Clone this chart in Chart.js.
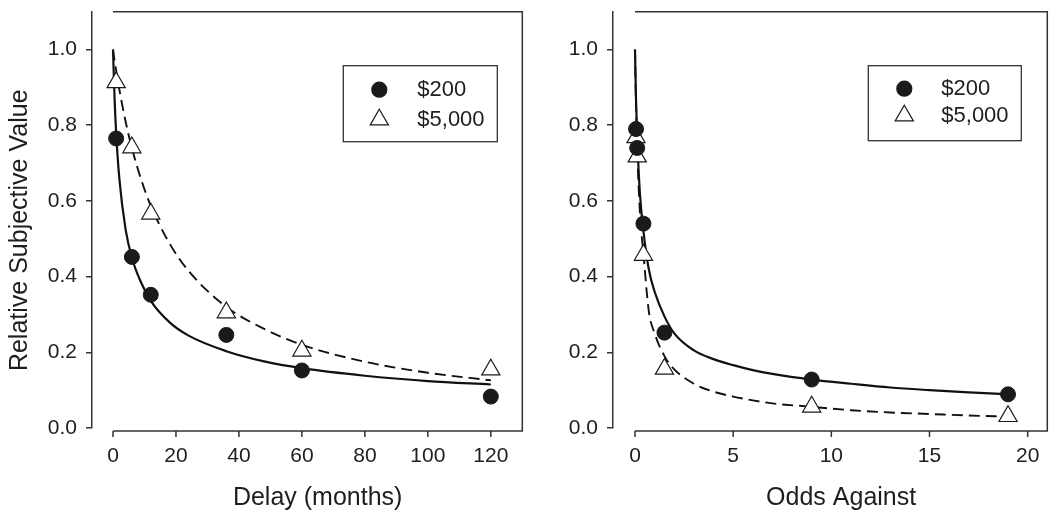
<!DOCTYPE html>
<html>
<head>
<meta charset="utf-8">
<script src="https://cdn.jsdelivr.net/npm/chart.js@4.4.1/dist/chart.umd.min.js"></script>
<style>
  body { margin: 0; background: #fff; }
  #wrap { position: relative; width: 1059px; height: 516px; }
  .panel { position: absolute; top: 0; height: 516px; }
</style>
</head>
<body>
<div id="wrap">
  <div class="panel" style="left:530px;width:529px"><canvas id="oddsChart"></canvas></div>
  <div class="panel" style="left:0;width:534px"><canvas id="delayChart"></canvas></div>
</div>
<script>
// --- left panel: delay (months)
const delayX = [1, 6, 12, 36, 60, 120];
const delay200 = [0.765, 0.452, 0.352, 0.246, 0.152, 0.083];
const delay5000 = [0.913, 0.741, 0.566, 0.305, 0.204, 0.154];
// fitted curves
const delayCurveX = [0, 0.5, 1, 2, 4, 6, 9, 12, 18, 24, 36, 48, 60, 80, 100, 120];
const delayCurve200 = [1.0, 0.87, 0.78, 0.66, 0.525, 0.45, 0.383, 0.336, 0.279, 0.244, 0.203, 0.176, 0.158, 0.138, 0.124, 0.115];
const delayCurve5000 = [1.0, 0.97, 0.945, 0.895, 0.81, 0.74, 0.655, 0.587, 0.487, 0.415, 0.32, 0.262, 0.22, 0.175, 0.146, 0.126];
const delayTicks = [0, 20, 40, 60, 80, 100, 120];

// --- right panel: odds against
const oddsX = [0.053, 0.111, 0.429, 1.5, 9, 19];
const odds200 = [0.79, 0.74, 0.54, 0.252, 0.128, 0.089];
const odds5000 = [0.768, 0.717, 0.457, 0.156, 0.056, 0.031];
const oddsCurveX = [0, 0.05, 0.11, 0.25, 0.43, 0.7, 1, 1.5, 2, 3, 4, 5, 6, 7, 9, 11, 13, 15, 17, 19];
const oddsCurve200 = [1.0, 0.87, 0.77, 0.62, 0.52, 0.42, 0.36, 0.295, 0.25, 0.205, 0.182, 0.166, 0.153, 0.143, 0.128, 0.117, 0.107, 0.1, 0.094, 0.089];
const oddsCurve5000 = [1.0, 0.86, 0.74, 0.57, 0.46, 0.31, 0.25, 0.19, 0.155, 0.117, 0.096, 0.083, 0.073, 0.065, 0.056, 0.047, 0.041, 0.037, 0.033, 0.03];
const oddsTicks = [0, 5, 10, 15, 20];

const yTicks = [0, 0.2, 0.4, 0.6, 0.8, 1.0];
const seriesNames = ['$200', '$5,000'];

const FONT = 'Liberation Sans, Arial, Helvetica, sans-serif';
const INK = '#1e1e1e';

const pts = (xs, ys) => xs.map((x, i) => ({x: x, y: ys[i]}));

function drawMarker(ctx, style, r, x, y) {
  ctx.beginPath();
  if (style === 'circle') {
    ctx.arc(x, y, r, 0, Math.PI * 2);
    ctx.fillStyle = '#1a1a1a';
  } else {
    ctx.moveTo(x, y - r);
    ctx.lineTo(x + r * 0.866, y + r / 2);
    ctx.lineTo(x - r * 0.866, y + r / 2);
    ctx.closePath();
    ctx.fillStyle = '#fff';
  }
  ctx.fill();
  ctx.strokeStyle = '#1a1a1a';
  ctx.lineWidth = 1.2;
  ctx.stroke();
}

// detached y axis, box frame, offset x axis and the inset legend
const framePlugin = {
  id: 'frame',
  afterLayout(chart, args, o) {
    // move the y axis a little left of the plot box
    const y = chart.scales.y;
    y.left -= o.shift;
    y.right -= o.shift;
  },
  afterDraw(chart, args, o) {
    const {ctx, chartArea: a, scales: {x}} = chart;
    const x0 = x.getPixelForValue(0), x1 = x.getPixelForValue(x.max);
    const yb = a.bottom + o.drop;
    ctx.save();
    ctx.strokeStyle = '#333';
    ctx.lineWidth = 1.5;
    ctx.beginPath();
    ctx.moveTo(x0, a.top); ctx.lineTo(x1, a.top); ctx.lineTo(x1, yb); ctx.lineTo(x0, yb);
    x.ticks.forEach(t => {
      const px = x.getPixelForValue(t.value);
      ctx.moveTo(px, yb); ctx.lineTo(px, yb + 6);
    });
    ctx.stroke();

    // legend
    const L = o.legend;
    const bx = a.right - L.right - L.w, by = a.top + L.top;
    ctx.lineWidth = 1.3;
    ctx.strokeStyle = '#333';
    ctx.strokeRect(bx, by, L.w, L.h);
    ctx.font = '22px ' + FONT;
    ctx.textBaseline = 'middle';
    const items = chart.data.datasets.filter(d => d.inLegend);
    items.forEach((d, i) => {
      const cy = by + L.rows[i];
      drawMarker(ctx, d.pointStyle, d.pointStyle === 'circle' ? 7.5 : 10.5, bx + L.markerX, cy);
      ctx.fillStyle = INK;
      ctx.fillText(d.label, bx + L.textX, cy);
    });
    ctx.restore();
  }
};

function makePanel(id, cfg) {
  const ctx = document.getElementById(id).getContext('2d');
  return new Chart(ctx, {
    type: 'scatter',
    data: {
      datasets: [
        {label: seriesNames[0], inLegend: true, data: pts(cfg.x, cfg.s200), pointStyle: 'circle',
         pointRadius: 7.5, backgroundColor: '#1a1a1a', borderColor: '#1a1a1a', borderWidth: 1, clip: false},
        {label: seriesNames[1], inLegend: true, data: pts(cfg.x, cfg.s5000), pointStyle: 'triangle',
         pointRadius: 10.5, backgroundColor: '#fff', borderColor: '#1a1a1a', borderWidth: 1.2, clip: false},
        {label: 'fit $200', data: pts(cfg.cx, cfg.c200), showLine: true, pointRadius: 0, clip: false,
         borderColor: '#111', borderWidth: 2.2, cubicInterpolationMode: 'monotone'},
        {label: 'fit $5,000', data: pts(cfg.cx, cfg.c5000), showLine: true, pointRadius: 0, clip: false,
         borderColor: '#111', borderWidth: 1.9, borderDash: [11, 6], cubicInterpolationMode: 'monotone'}
      ]
    },
    options: {
      responsive: true,
      maintainAspectRatio: false,
      animation: false,
      layout: {padding: {top: 10, right: cfg.padRight, bottom: 0, left: 0}},
      plugins: {
        legend: {display: false},
        tooltip: {enabled: false},
        frame: {drop: 3, shift: cfg.shift, legend: cfg.legend}
      },
      scales: {
        x: {
          type: 'linear',
          min: 0,
          max: cfg.xMax,
          afterBuildTicks: s => { s.ticks = cfg.ticks.map(v => ({value: v})); },
          afterFit: s => { s.height = 88; },
          border: {display: false},
          grid: {display: false, drawTicks: false},
          ticks: {padding: 16, color: INK, font: {size: 21, family: FONT}},
          title: {display: true, text: cfg.xTitle, color: INK,
                  font: {size: 25, family: FONT}, padding: {top: 0, bottom: 3}}
        },
        y: {
          min: 0,
          max: 1.1,
          afterBuildTicks: s => { s.ticks = yTicks.map(v => ({value: v})); },
          afterFit: s => { s.width = cfg.yWidth; s.paddingTop = 0; s.paddingBottom = 0; },
          border: {display: true, color: '#333', width: 1.5},
          grid: {display: true, drawOnChartArea: false, drawTicks: true, tickLength: 6,
                 color: '#333', lineWidth: 1.5},
          ticks: {padding: 9, color: INK, font: {size: 21, family: FONT},
                  callback: v => v.toFixed(1)},
          title: {display: !!cfg.yTitle, text: cfg.yTitle || '', color: INK,
                  font: {size: 25, family: FONT}, padding: {top: 5 + cfg.shift, bottom: 0}}
        }
      }
    },
    plugins: [framePlugin]
  });
}

makePanel('delayChart', {
  x: delayX, s200: delay200, s5000: delay5000,
  cx: delayCurveX, c200: delayCurve200, c5000: delayCurve5000,
  ticks: delayTicks, xMax: 130, yWidth: 113, shift: 21, padRight: 2,
  xTitle: 'Delay (months)', yTitle: 'Relative Subjective Value   ',
  legend: {right: 25, top: 54, w: 154, h: 76, markerX: 36, textX: 74, rows: [24, 54]}
});

makePanel('oddsChart', {
  x: oddsX, s200: odds200, s5000: odds5000,
  cx: oddsCurveX, c200: oddsCurve200, c5000: oddsCurve5000,
  ticks: oddsTicks, xMax: 21, yWidth: 105, shift: 22, padRight: 1,
  xTitle: 'Odds Against', yTitle: null,
  legend: {right: 26, top: 54, w: 153, h: 75, markerX: 36, textX: 73, rows: [23, 50]}
});
</script>
</body>
</html>
